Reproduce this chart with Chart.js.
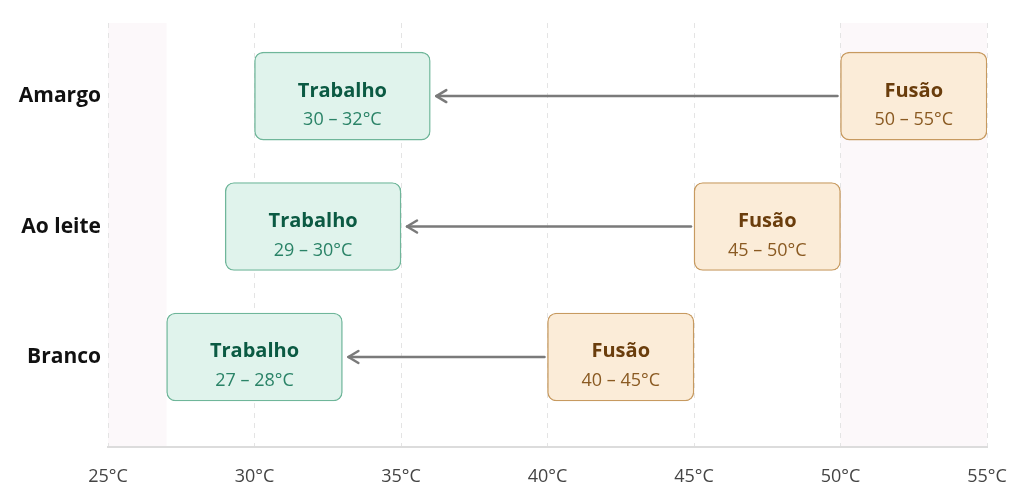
<!DOCTYPE html>
<html>
<head>
<meta charset="utf-8">
<script src="https://cdn.jsdelivr.net/npm/chart.js@4.4.1/dist/chart.umd.min.js"></script>
<style>
html,body{margin:0;padding:0;background:#fff;}
#wrap{width:1024px;height:498px;position:relative;}
</style>
</head>
<body>
<div id="wrap"><canvas id="c"></canvas></div>
<script>
// ---- data ----
const categories = ['Amargo', 'Ao leite', 'Branco'];
const workLow  = [30, 29, 27];
const workHigh = [32, 30, 28];
const meltLow  = [50, 45, 40];
const meltHigh = [55, 50, 45];
const workTitle = 'Trabalho';
const meltTitle = 'Fusão';
const xTickValues = [25, 30, 35, 40, 45, 50, 55];
const shadedZones = [[25, 27], [50, 55]];
const WORK_BOX_SPAN = 6; // label box width in °C for working range

const FONT = '"Open Sans", "Noto Sans", sans-serif';

const workData = categories.map((c, i) => ({ x: [workLow[i], workLow[i] + WORK_BOX_SPAN], y: i }));
const meltData = categories.map((c, i) => ({ x: [meltLow[i], meltHigh[i]], y: i }));

const zonePlugin = {
  id: 'zones',
  beforeDraw(chart) {
    const { ctx, chartArea: a, scales: { x } } = chart;
    ctx.save();
    ctx.fillStyle = '#fcf8fa';
    shadedZones.forEach(([lo, hi]) => {
      const x0 = x.getPixelForValue(lo), x1 = x.getPixelForValue(hi);
      ctx.fillRect(x0, a.top, x1 - x0, a.bottom - a.top);
    });
    ctx.restore();
  }
};

const labelPlugin = {
  id: 'boxLabels',
  afterDatasetsDraw(chart) {
    const ctx = chart.ctx;
    const work = chart.getDatasetMeta(0).data;
    const melt = chart.getDatasetMeta(1).data;
    ctx.save();
    ctx.setLineDash([]);
    // arrows
    ctx.strokeStyle = '#7a7a7a';
    ctx.lineWidth = 2.5;
    ctx.lineCap = 'round';
    ctx.lineJoin = 'round';
    categories.forEach((c, i) => {
      const w = work[i].getProps(['x', 'base', 'y'], true);
      const m = melt[i].getProps(['x', 'base', 'y'], true);
      const y = m.y;
      const xs = Math.min(m.x, m.base) - 3;
      const xe = Math.max(w.x, w.base) + 6;
      ctx.beginPath();
      ctx.moveTo(xs, y);
      ctx.lineTo(xe, y);
      ctx.stroke();
      ctx.beginPath();
      ctx.moveTo(xe + 10, y - 6);
      ctx.lineTo(xe, y);
      ctx.lineTo(xe + 10, y + 6);
      ctx.stroke();
    });
    // labels
    ctx.textAlign = 'center';
    ctx.textBaseline = 'alphabetic';
    const drawLabels = (els, title, lows, highs, cTitle, cSub) => {
      els.forEach((el, i) => {
        const p = el.getProps(['x', 'base', 'y'], true);
        const cx = (p.x + p.base) / 2;
        ctx.font = 'bold 20px ' + FONT;
        ctx.fillStyle = cTitle;
        ctx.fillText(title, cx, p.y + 0.5);
        ctx.font = '18px ' + FONT;
        ctx.fillStyle = cSub;
        ctx.fillText(lows[i] + ' – ' + highs[i] + '°C', cx, p.y + 29);
      });
    };
    drawLabels(work, workTitle, workLow, workHigh, '#0b5a43', '#2a8367');
    drawLabels(melt, meltTitle, meltLow, meltHigh, '#6a3d0c', '#8a5a22');
    ctx.restore();
  }
};

new Chart(document.getElementById('c'), {
  type: 'bar',
  data: {
    datasets: [
      {
        label: workTitle,
        data: workData,
        backgroundColor: '#e0f3ec',
        borderColor: '#6fb69a',
        borderWidth: 1.4,
        borderSkipped: false,
        borderRadius: 9,
        barThickness: 88,
        grouped: false
      },
      {
        label: meltTitle,
        data: meltData,
        backgroundColor: '#fbecd8',
        borderColor: '#c79a60',
        borderWidth: 1.4,
        borderSkipped: false,
        borderRadius: 9,
        barThickness: 88,
        grouped: false
      }
    ]
  },
  options: {
    indexAxis: 'y',
    responsive: true,
    maintainAspectRatio: false,
    animation: false,
    layout: { padding: { left: 0, right: 37, top: 23, bottom: 0 } },
    plugins: { legend: { display: false }, tooltip: { enabled: false } },
    scales: {
      x: {
        type: 'linear',
        min: 25,
        max: 55,
        offset: false,
        afterBuildTicks(scale) { scale.ticks = xTickValues.map(v => ({ value: v })); },
        afterFit(scale) { scale.height = 51; scale.paddingLeft = 0; scale.paddingRight = 0; },
        ticks: {
          callback: v => v + '°C',
          color: '#444',
          font: { family: FONT, size: 18 },
          padding: 19,
          maxRotation: 0
        },
        grid: { color: '#e4e4e4', drawTicks: false, tickLength: 0 },
        border: { display: true, color: '#dcdcdc', width: 2, dash: [5, 5] }
      },
      y: {
        type: 'linear',
        reverse: true,
        offset: false,
        min: -0.56,
        max: 2.69,
        afterBuildTicks(scale) { scale.ticks = categories.map((c, i) => ({ value: i })); },
        afterFit(scale) { scale.width = 108; },
        ticks: {
          callback: v => categories[v],
          color: '#111',
          font: { family: FONT, size: 21, weight: 'bold' },
          padding: 7
        },
        grid: { display: false, drawTicks: false, offset: false },
        border: { display: false }
      }
    }
  },
  plugins: [zonePlugin, labelPlugin]
});
</script>
</body>
</html>
